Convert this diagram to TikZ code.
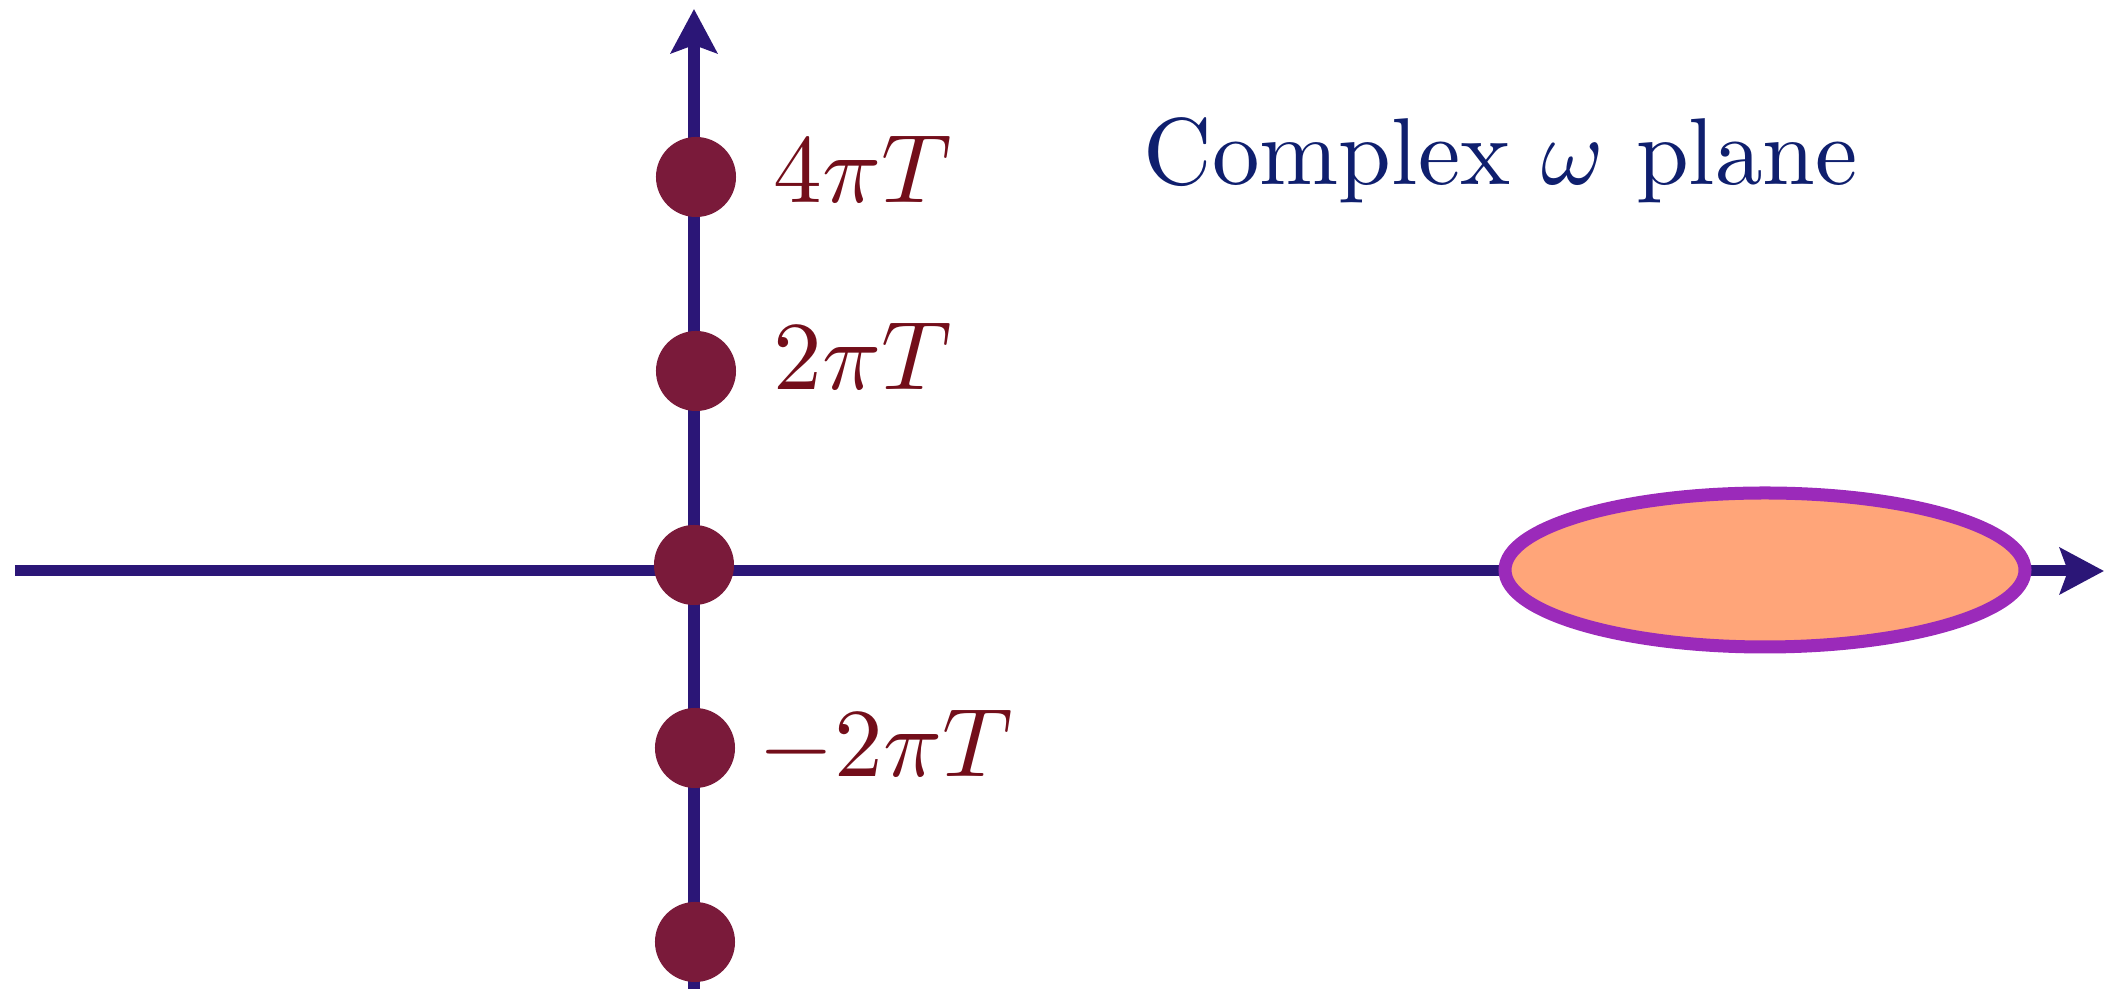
\documentclass[tikz,border=0pt]{standalone}
\usepackage{amsmath,amssymb}
\usepackage{xcolor}
\usepackage{tikz}
\usetikzlibrary{positioning,arrows.meta,calc}
\definecolor{axis}{HTML}{2B1677}
\definecolor{pole}{HTML}{7A1A3A}
\definecolor{polelbl}{HTML}{730E1A}
\definecolor{ttl}{HTML}{0F1F6E}
\definecolor{blobfill}{HTML}{FFA579}
\definecolor{blobline}{HTML}{9B2ABA}
\newcommand{\biglbl}[1]{\scalebox{2.77}{#1}}

\begin{document}
\begin{tikzpicture}[
  x=0.01cm,y=0.01cm,
  ax/.style={-{Stealth[length=4.4mm,width=4.6mm,inset=0.8mm]},axis,line width=1.1mm},
  pt/.style={circle,fill=pole,inner sep=0pt,minimum size=8mm},
  lbl/.style={polelbl,anchor=base west,inner sep=0pt},
  blob/.style={fill=blobfill,draw=blobline,line width=1.3mm}]
\useasboundingbox (-694,-418) rectangle (1427,571);
% axes
\coordinate (xl) at (-679,0);
\coordinate (xr) at (1410,0);
\coordinate (yb) at (0,-430);
\coordinate (yt) at (0,562);
\draw[ax] (xl)--(xr);
\draw[ax] (yb)--(yt);
% region on the real axis
\draw[blob] (1071,1) ellipse [x radius=260,y radius=77];
% Matsubara poles
\node[pt] (d4) at (2,394) {};
\node[pt] (d2) at (2,200) {};
\node[pt] (d0) at (0,6) {};
\node[pt] (dm2) at (1,-177) {};
\node[pt] (dm4) at (1,-371) {};
\node[lbl] (l4) at (79,368) {\biglbl{$4\pi T$}};
\node[lbl] (l2) at (79,181) {\biglbl{$2\pi T$}};
\node[lbl] (lm2) at (64,-206) {\biglbl{$-2\pi T$}};
\node[lbl,ttl] (title) at (449,386) {\scalebox{2.70}{Complex $\omega$ plane}};
\end{tikzpicture}
\end{document}
